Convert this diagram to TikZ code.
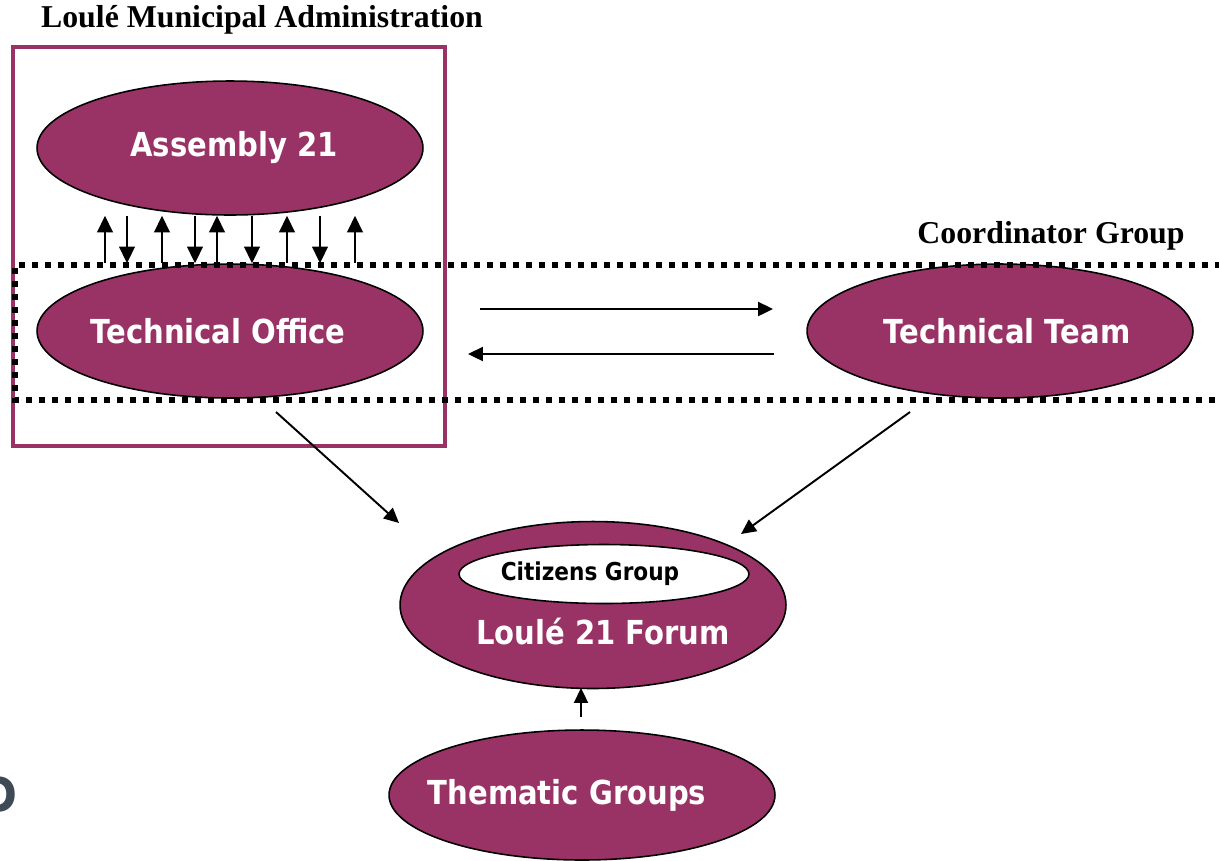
\documentclass[tikz,border=0pt]{standalone}
\usepackage{fontspec}
\setmainfont{Liberation Serif}
\newfontfamily\boxfont{DejaVu Sans}[FakeStretch=0.88]
\usetikzlibrary{shapes.geometric,arrows.meta}
\definecolor{plum}{HTML}{993366}
\definecolor{slate}{HTML}{3E4A56}
% text moved sideways by half of #1, box kept at zero width
\newcommand\nudge[2]{\makebox[0pt]{\kern#1\relax#2}}
\tikzset{
  org/.style={ellipse, draw=black, line width=0.9pt, fill=plum, text=white,
    font=\boxfont\bfseries\fontsize{18.8}{22}\selectfont,
    minimum width=7.72cm, minimum height=2.68cm, inner sep=0pt},
  lnk/.style={-{Triangle[length=8.5pt,width=8pt]}, line width=1.1pt},
  vlnk/.style={-{Triangle[length=9.5pt,width=9pt]}, line width=1.1pt},
  grouplabel/.style={font=\bfseries\fontsize{18.1}{21}\selectfont, inner sep=0pt},
  dots/.style={line width=3.3pt, dash pattern=on 3.5pt off 3.9pt},
}
\begin{document}
\begin{tikzpicture}[x=0.02cm,y=-0.02cm]
\useasboundingbox (0,0) rectangle (1219,860);
\clip (0,0) rectangle (1219,860);
\fill[white] (0,0) rectangle (1219,860);

% municipal frame
\draw[plum, line width=2.3pt, fill=white] (13,47) rectangle (445,446);
\node[grouplabel] (munlbl) at (262,20) {Loulé Municipal Administration};

% bodies
\node[org] (asm) at (230,148) {\nudge{0.16cm}{Assembly 21}};
\node[org] (ofc) at (230,331) {\nudge{-0.48cm}{Technical Office}};
\node[org] (team) at (1000,331) {\nudge{0.28cm}{Technical Team}};
\node[org, minimum height=3.34cm] (forum) at (593,605) {};
\node[ellipse, draw=black, line width=0.9pt, fill=white, inner sep=0pt,
  minimum width=5.8cm, minimum height=1.18cm,
  font=\boxfont\bfseries\fontsize{14}{17}\selectfont] (citz) at (604,574) {\nudge{-0.56cm}{Citizens Group}};
\node[text=white, font=\boxfont\bfseries\fontsize{18.8}{22}\selectfont] (forumtxt) at (603,632) {Loulé 21 Forum};
\node[org, minimum height=2.6cm] (thm) at (582,795) {\nudge{-0.6cm}{Thematic Groups}};

% coordinator group
\draw[dots] (1260,265) -- (15,265) -- (15,400) -- (1260,400);
\node[grouplabel] (coordlbl) at (1051,236) {Coordinator Group};

% assembly <-> office
\foreach \x in {105,162,217,287,355}
  \draw[vlnk] (\x,0 |- ofc.north) -- (\x,0 |- asm.south);
\foreach \x in {127,195,252,320}
  \draw[vlnk] (\x,0 |- asm.south) -- (\x,0 |- ofc.north);

% office <-> team
\coordinate (ofcout) at (480,309);
\coordinate (teamin) at (773,309);
\coordinate (teamout) at (774,354);
\coordinate (ofcin) at (468,354);
\draw[lnk] (ofcout) -- (teamin);
\draw[lnk] (teamout) -- (ofcin);

% into the forum
\coordinate (ofcdown) at (276,412);
\coordinate (forumnw) at (399,523);
\coordinate (teamdown) at (910,412);
\coordinate (forumne) at (741,534);
\coordinate (thmup) at (581,717);
\coordinate (forumbot) at (581,688);
\draw[lnk] (ofcdown) -- (forumnw);
\draw[lnk] (teamdown) -- (forumne);
\draw[lnk] (thmup) -- (forumbot);

\node[anchor=east, inner sep=0pt, text=slate,
  font=\boxfont\bfseries\fontsize{28}{30}\selectfont] (logo) at (18,795) {D};
\end{tikzpicture}
\end{document}
